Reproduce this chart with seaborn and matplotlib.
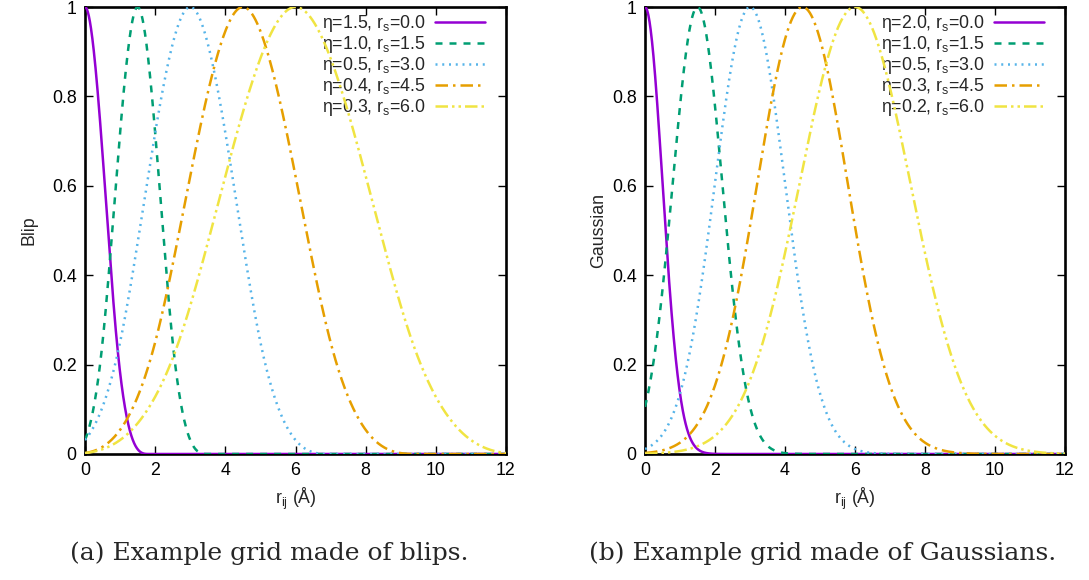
import numpy as np
import pandas as pd
import matplotlib
matplotlib.use("Agg")
import matplotlib.pyplot as plt
import seaborn as sns

# ---- data ----
rs_values = [0.0, 1.5, 3.0, 4.5, 6.0]
# legend parameters
eta_blip_labels = [1.5, 1.0, 0.5, 0.4, 0.3]
eta_gauss = [2.0, 1.0, 0.5, 0.3, 0.2]
# blip widths
blip_width = [1.1, 1.0, 0.5, 0.4, 0.3]
x_ticks = [0, 2, 4, 6, 8, 10, 12]
y_ticks = [0, 0.2, 0.4, 0.6, 0.8, 1.0]
y_ticklabels = ["0", "0.2", "0.4", "0.6", "0.8", "1"]
colors = ["#9400d3", "#009e73", "#56b4e9", "#e69f00", "#f0e442"]
dash_styles = [None, (2.8, 2.8), (0.8, 1.9), (5.0, 2.0, 1.0, 2.0), (5.0, 1.6, 1.0, 1.6, 1.0, 1.6)]
captions = ["(a) Example grid made of blips.", "(b) Example grid made of Gaussians."]
ylabels = ["Blip", "Gaussian"]

r = np.linspace(0, 12, 1201)


def blip(r, eta, rs):
    x = np.abs(eta * (r - rs))
    out = np.zeros_like(x)
    m1 = x <= 1
    m2 = (x > 1) & (x <= 2)
    out[m1] = 1 - 1.5 * x[m1] ** 2 + 0.75 * x[m1] ** 3
    out[m2] = 0.25 * (2 - x[m2]) ** 3
    return out


def gauss(r, eta, rs):
    return np.exp(-eta * (r - rs) ** 2)


sns.set_style("ticks")
plt.rcParams["font.family"] = ["Liberation Sans", "DejaVu Sans"]
plt.rcParams["mathtext.fontset"] = "custom"
plt.rcParams["mathtext.rm"] = "Liberation Sans"
plt.rcParams["mathtext.it"] = "Liberation Sans"

FS = 12.75
fig = plt.figure(figsize=(10.89, 5.80), dpi=100)
W, H = 1089, 580
axes = [
    fig.add_axes([85 / W, 1 - 454 / H, (506 - 85) / W, (454 - 7) / H]),
    fig.add_axes([645 / W, 1 - 454 / H, (1065 - 645) / W, (454 - 7) / H]),
]
panels = [
    (blip, blip_width, eta_blip_labels, -0.114),
    (gauss, eta_gauss, eta_gauss, -0.0905),
]

for pi, (ax, (func, params, label_etas, ylab_x)) in enumerate(zip(axes, panels)):
    for i, (eta, lab_eta, rs) in enumerate(zip(params, label_etas, rs_values)):
        df = pd.DataFrame({"r": r, "v": func(r, eta, rs)})
        label = rf"η={lab_eta:.1f}, r$_{{\rm s}}$={rs:.1f}"
        sns.lineplot(data=df, x="r", y="v", ax=ax, color=colors[i], linewidth=1.8,
                     label=label, zorder=3 + i)
        line = ax.lines[-1]
        if dash_styles[i] is not None:
            line.set_dashes(dash_styles[i])
    ax.set_xlim(0, 12)
    ax.set_ylim(0, 1)
    ax.set_xticks(x_ticks)
    ax.set_xticklabels([str(t) for t in x_ticks])
    ax.set_yticks(y_ticks)
    ax.set_yticklabels(y_ticklabels)
    ax.tick_params(direction="in", length=6, width=1, top=True, right=True,
                   labelsize=FS, pad=6, colors="black")
    for s in ax.spines.values():
        s.set_visible(True)
        s.set_linewidth(1.9)
        s.set_color("black")
    ax.set_xlabel(r"r$_{\rm ij}$ (Å)", fontsize=FS, labelpad=5)
    ax.set_ylabel(ylabels[pi], fontsize=FS)
    ax.yaxis.set_label_coords(ylab_x, 0.5)
    leg = ax.legend(loc="upper right", frameon=False, markerfirst=False,
                    fontsize=FS, handlelength=2.8, handletextpad=0.55,
                    labelspacing=0.0, borderaxespad=0.0,
                    bbox_to_anchor=(1.0 - 14 / 421, 1.0 + 1 / 447))
    for lh in leg.get_lines():
        lh.set_linewidth(1.8)
    for lh, ds in zip(leg.get_lines(), dash_styles):
        if ds is not None:
            lh.set_dashes(ds)

fig.text(269 / W, 1 - 553 / H, captions[0], ha="center", va="center",
         fontsize=18, family="DejaVu Serif")
fig.text(823 / W, 1 - 553 / H, captions[1], ha="center", va="center",
         fontsize=18, family="DejaVu Serif")

fig.savefig("out.png", dpi=100, facecolor="white")
